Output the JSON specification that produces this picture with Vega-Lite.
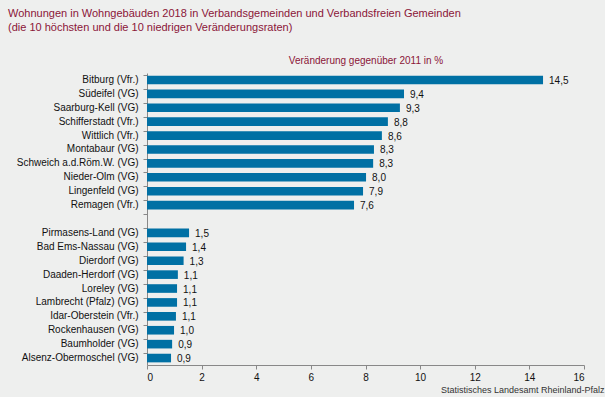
{
  "$schema": "https://vega.github.io/schema/vega-lite/v6.json",
  "width": 437,
  "height": 292,
  "autosize": {"type": "none"},
  "padding": {"left": 147, "top": 73, "right": 21, "bottom": 32},
  "background": "#eeefee",
  "title": {
    "text": ["Wohnungen in Wohngebäuden 2018 in Verbandsgemeinden und Verbandsfreien Gemeinden", "(die 10 höchsten und die 10 niedrigen Veränderungsraten)"],
    "anchor": "start",
    "frame": "group",
    "dx": -139,
    "offset": 22,
    "font": "Liberation Sans",
    "fontSize": 11,
    "fontWeight": "normal",
    "color": "#8b1538",
    "lineHeight": 14
  },
  "data": {
    "values": [
      {"name": "Bitburg (Vfr.)", "value": 14.5},
      {"name": "Südeifel (VG)", "value": 9.41},
      {"name": "Saarburg-Kell (VG)", "value": 9.26},
      {"name": "Schifferstadt (Vfr.)", "value": 8.82},
      {"name": "Wittlich (Vfr.)", "value": 8.6},
      {"name": "Montabaur (VG)", "value": 8.31},
      {"name": "Schweich a.d.Röm.W. (VG)", "value": 8.28},
      {"name": "Nieder-Olm (VG)", "value": 8.02},
      {"name": "Lingenfeld (VG)", "value": 7.91},
      {"name": "Remagen (Vfr.)", "value": 7.58},
      {"name": "Pirmasens-Land (VG)", "value": 1.54},
      {"name": "Bad Ems-Nassau (VG)", "value": 1.43},
      {"name": "Dierdorf (VG)", "value": 1.34},
      {"name": "Daaden-Herdorf (VG)", "value": 1.13},
      {"name": "Loreley (VG)", "value": 1.1},
      {"name": "Lambrecht (Pfalz) (VG)", "value": 1.1},
      {"name": "Idar-Oberstein (Vfr.)", "value": 1.06},
      {"name": "Rockenhausen (VG)", "value": 0.99},
      {"name": "Baumholder (VG)", "value": 0.92},
      {"name": "Alsenz-Obermoschel (VG)", "value": 0.88}
    ]
  },
  "layer": [
    {
      "mark": {"type": "bar", "color": "#0070a4"},
      "encoding": {
        "x": {
          "field": "value", "type": "quantitative",
          "scale": {"domain": [0, 16], "nice": false},
          "axis": {
            "orient": "bottom",
            "values": [0, 2, 4, 6, 8, 10, 12, 14, 16],
            "grid": false,
            "domainColor": "#888888",
            "tickColor": "#888888",
            "tickSize": 4,
            "labelFont": "Liberation Sans",
            "labelFontSize": 10,
            "labelColor": "#111111",
            "labelPadding": 3,
            "title": "Statistisches Landesamt  Rheinland-Pfalz",
            "titleFont": "Liberation Sans",
            "titleFontSize": 9,
            "titleFontWeight": "normal",
            "titleColor": "#333333",
            "titleAnchor": "end",
            "titleAlign": "right",
            "titleX": 457,
            "titleY": 27,
            "titleBaseline": "alphabetic"
          }
        },
        "y": {
          "field": "name", "type": "nominal",
          "scale": {
            "domain": ["Bitburg (Vfr.)", "Südeifel (VG)", "Saarburg-Kell (VG)", "Schifferstadt (Vfr.)", "Wittlich (Vfr.)", "Montabaur (VG)", "Schweich a.d.Röm.W. (VG)", "Nieder-Olm (VG)", "Lingenfeld (VG)", "Remagen (Vfr.)", "", "Pirmasens-Land (VG)", "Bad Ems-Nassau (VG)", "Dierdorf (VG)", "Daaden-Herdorf (VG)", "Loreley (VG)", "Lambrecht (Pfalz) (VG)", "Idar-Oberstein (Vfr.)", "Rockenhausen (VG)", "Baumholder (VG)", "Alsenz-Obermoschel (VG)"],
            "paddingInner": 0.38,
            "paddingOuter": 0.19
          },
          "axis": {
            "orient": "left",
            "title": null,
            "ticks": false,
            "domainColor": "#888888",
            "labelFont": "Liberation Sans",
            "labelFontSize": 10,
            "labelColor": "#111111",
            "labelPadding": 9
          }
        }
      }
    },
    {
      "mark": {"type": "text", "align": "left", "baseline": "middle", "dx": 6, "dy": 1, "font": "Liberation Sans", "fontSize": 10, "color": "#111111"},
      "encoding": {
        "x": {
          "field": "value", "type": "quantitative",
          "axis": {
            "orient": "top",
            "domain": false,
            "ticks": false,
            "labels": false,
            "grid": false,
            "title": "Veränderung  gegenüber  2011 in %",
            "titleFont": "Liberation Sans",
            "titleFontSize": 10,
            "titleFontWeight": "normal",
            "titleColor": "#8b1538",
            "titlePadding": 8
          }
        },
        "y": {
          "field": "name", "type": "nominal",
          "axis": {
            "orient": "left",
            "title": null,
            "labels": false,
            "domain": false,
            "ticks": true,
            "bandPosition": 0,
            "tickColor": "#888888",
            "tickSize": 4
          }
        },
        "text": {"field": "value", "type": "quantitative", "format": ".1f"}
      }
    }
  ],
  "resolve": {"axis": {"x": "independent", "y": "independent"}},
  "config": {
    "view": {"stroke": null},
    "locale": {
      "number": {"decimal": ",", "thousands": ".", "grouping": [3], "currency": ["", " €"]}
    }
  }
}
